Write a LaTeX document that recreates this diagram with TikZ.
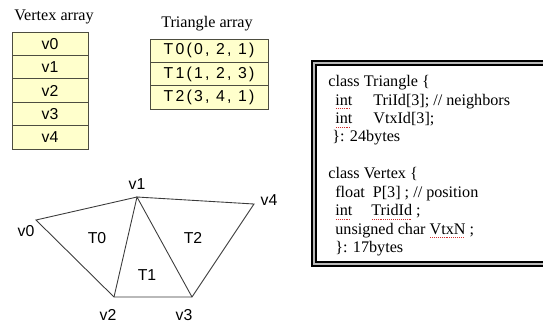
\documentclass[tikz,border=0pt]{standalone}
\usepackage{fontspec}
\setmainfont{Liberation Serif}
\newfontfamily\labelfont{Liberation Sans}
\newfontfamily\tuplefont[LetterSpace=14]{Liberation Sans}
\usepackage{tikz}
\usetikzlibrary{positioning}
\definecolor{cellfill}{HTML}{FFFFCC}
\definecolor{cellline}{HTML}{4D4D40}
\definecolor{meshline}{HTML}{3A3A3A}
\definecolor{spellred}{HTML}{D03030}
\newsavebox\spellbox
\newcommand\spellmark[1]{\leavevmode\sbox\spellbox{#1}%
  \rlap{\hbox to \wd\spellbox{\color{spellred}\leaders\hbox to 1.1pt{\hss\rule[-2.3pt]{0.55pt}{0.5pt}\hss}\hfill}}\usebox\spellbox}

\begin{document}
\begin{tikzpicture}[x=0.02cm,y=-0.02cm,font=\labelfont\fontsize{9}{11}\selectfont,
  cell/.style={draw=cellline,fill=cellfill,line width=0.5pt,outer sep=0pt,inner sep=0pt,minimum height=0.468cm},
  vcell/.style={cell,minimum width=1.52cm},
  tcell/.style={cell,minimum width=2.36cm,font=\tuplefont\fontsize{9}{11}\selectfont},
  caption/.style={font=\rmfamily\fontsize{9.2}{11}\selectfont},
  mesh/.style={draw=meshline,line width=0.5pt}]
  \useasboundingbox (0,0) rectangle (543,322);
  % vertex array
  \node[caption] (vcap) at (54,17) {Vertex array};
  \node[vcell] (vx0) at (50,43.7) {v0};
  \node[vcell,below=0pt of vx0] (vx1) {v1};
  \node[vcell,below=0pt of vx1] (vx2) {v2};
  \node[vcell,below=0pt of vx2] (vx3) {v3};
  \node[vcell,below=0pt of vx3] (vx4) {v4};
  % triangle array
  \node[caption] (tcap) at (207,24) {Triangle array};
  \node[tcell] (tr0) at (209,50.7) {T0(0, 2, 1)};
  \node[tcell,below=0pt of tr0] (tr1) {T1(1, 2, 3)};
  \node[tcell,below=0pt of tr1] (tr2) {T2(3, 4, 1)};
  % mesh
  \coordinate (p0) at (36,220);
  \coordinate (p1) at (137,197);
  \coordinate (p2) at (114,297);
  \coordinate (p3) at (192,297);
  \coordinate (p4) at (254,204);
  \draw[mesh] (p0) -- (p1) -- (p4) -- (p3) -- (p2) -- cycle;
  \draw[mesh] (p2) -- (p1) -- (p3);
  \node (lv0) at (26,231) {v0};
  \node (lv1) at (137,184) {v1};
  \node (lv2) at (108,315) {v2};
  \node (lv3) at (184,315) {v3};
  \node (lv4) at (269,200) {v4};
  \node (lt0) at (97,238) {T0};
  \node (lt1) at (147,275) {T1};
  \node (lt2) at (193,238) {T2};
  % class listing
  \draw[line width=0.7pt,double=gray!55,double distance=1.6pt] (314,63) rectangle (552,264);
  \node[caption,anchor=north west,align=left,inner sep=0pt,font=\rmfamily\fontsize{9.2}{10.5}\selectfont] (code) at (328,75) {%
    class Triangle \{\\
    \hspace*{0.14cm}\makebox[0.76cm][l]{\spellmark{int}}TriId[3]; // neighbors\\
    \hspace*{0.14cm}\makebox[0.76cm][l]{\spellmark{int}}VtxId[3];\\
    \hspace*{0.08cm}\}: 24bytes\\[10.5pt]
    class Vertex \{\\
    \hspace*{0.14cm}\makebox[0.75cm][l]{float}P[3] ; // position\\
    \hspace*{0.14cm}\makebox[0.72cm][l]{\spellmark{int}}\spellmark{TridId} ;\\
    \hspace*{0.14cm}unsigned char \spellmark{VtxN} ;\\
    \hspace*{0.14cm}\}: 17bytes};
\end{tikzpicture}
\end{document}
